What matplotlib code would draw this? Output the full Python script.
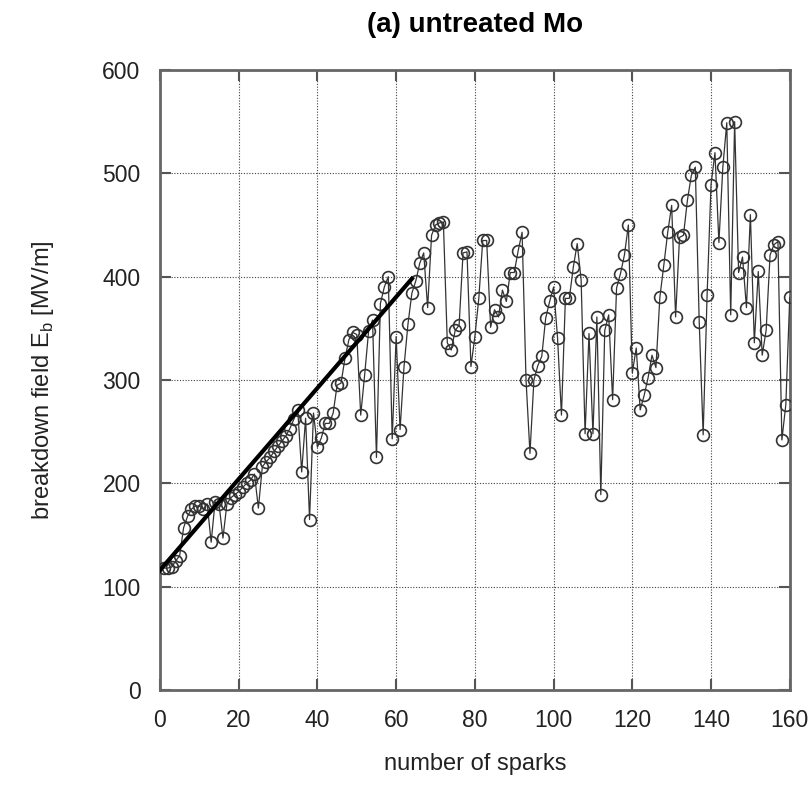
import numpy as np
import matplotlib
matplotlib.use("Agg")
import matplotlib.pyplot as plt

# breakdown field per spark
sparks = np.arange(1, 161)
field = [118, 118, 119, 125, 130, 157, 168, 175, 178, 178,
         175, 180, 143, 182, 180, 147, 180, 186, 189, 192,
         196, 200, 203, 209, 176, 216, 221, 225, 231, 236,
         241, 246, 253, 262, 271, 211, 263, 165, 268, 235,
         244, 258, 258, 268, 295, 297, 321, 339, 346, 344,
         266, 305, 347, 358, 225, 374, 390, 400, 243, 342,
         252, 313, 354, 384, 396, 413, 423, 370, 440, 450,
         452, 453, 336, 329, 348, 353, 423, 424, 313, 342,
         379, 435, 435, 351, 368, 361, 387, 376, 404, 404,
         425, 443, 300, 229, 300, 314, 323, 360, 376, 390,
         341, 266, 379, 379, 409, 432, 397, 248, 345, 248,
         361, 189, 348, 363, 281, 389, 403, 421, 450, 307,
         331, 271, 285, 302, 324, 312, 380, 411, 443, 469,
         361, 438, 440, 474, 498, 506, 356, 247, 382, 489,
         520, 433, 506, 549, 363, 550, 404, 419, 370, 460,
         336, 405, 324, 348, 421, 431, 434, 242, 276, 380]

# linear conditioning trend (thick line)
fit_x = [0, 64]
fit_y = [116, 398]

xticks = [0, 20, 40, 60, 80, 100, 120, 140, 160]
yticks = [0, 100, 200, 300, 400, 500, 600]

fam = ['Liberation Sans', 'DejaVu Sans']

fig = plt.figure(figsize=(8.1, 8.0), dpi=100)
ax = fig.add_axes([0.1975, 0.1375, 0.7775, 0.775])

ax.plot(sparks, field, '-', color='#333333', lw=0.9, zorder=3)
ax.plot(sparks, field, 'o', ms=8.5, mfc='none', mec='#333333', mew=1.2, zorder=4)
ax.plot(fit_x, fit_y, '-', color='black', lw=3.0, zorder=5)

ax.set_xlim(0, 160)
ax.set_ylim(0, 600)
ax.set_xticks(xticks)
ax.set_yticks(yticks)
ax.set_xticklabels([str(v) for v in xticks], family=fam, fontsize=16.5, color='#222222')
ax.set_yticklabels([str(v) for v in yticks], family=fam, fontsize=16.5, color='#222222')

ax.grid(True, color='#444444', lw=0.8, linestyle=(0, (1, 1.5)))
ax.tick_params(direction='in', length=8, width=1.5, color='#555555',
               top=True, right=True, pad=14)
for s in ax.spines.values():
    s.set_color('#666666')
    s.set_linewidth(2)

ax.set_title('(a) untreated Mo', family=fam, fontsize=20, fontweight='bold', pad=27)
ax.set_xlabel('number of sparks', family=fam, fontsize=17, labelpad=15, color='#222222')
ax.set_ylabel('breakdown field E$_\\mathregular{b}$ [MV/m]', family=fam, fontsize=17,
              labelpad=33, color='#222222')

fig.savefig('out.png', dpi=100)
